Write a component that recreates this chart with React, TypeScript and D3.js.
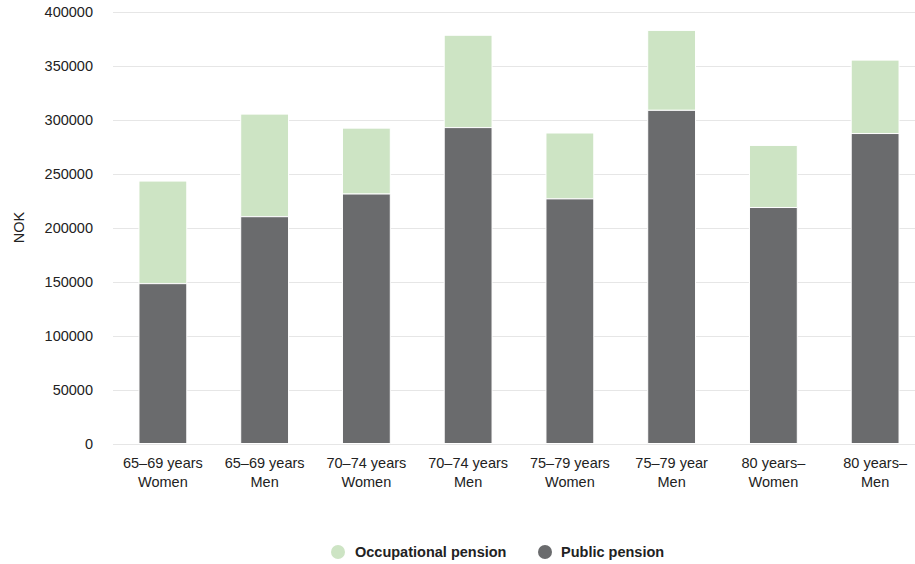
import React from "react";
import * as d3 from "d3";

const categories: string[][] = [
  ["65–69 years", "Women"],
  ["65–69 years", "Men"],
  ["70–74 years", "Women"],
  ["70–74 years", "Men"],
  ["75–79 years", "Women"],
  ["75–79 year", "Men"],
  ["80 years–", "Women"],
  ["80 years–", "Men"],
];
const publicPension = [148000, 210000, 231000, 292500, 226500, 308500, 218500, 287000];
const occupationalPension = [95000, 95000, 61000, 85500, 61000, 74000, 57500, 68000];
const yTicks = [0, 50000, 100000, 150000, 200000, 250000, 300000, 350000, 400000];
const seriesNames = ["Occupational pension", "Public pension"];

const W = 915;
const H = 564;
const GREEN = "#cde4c4";
const DARK = "#6a6b6d";
const FONT = "'Liberation Sans', Arial, sans-serif";
const FS = 14.5;

export default function App() {
  const x = d3
    .scaleBand<number>()
    .domain(d3.range(categories.length))
    .range([112, 926])
    .paddingInner(0.53)
    .paddingOuter(0.265);
  const y = d3.scaleLinear().domain([0, 400000]).range([443.5, 11.5]);
  const bw = x.bandwidth();

  return (
    <svg width={W} height={H} style={{ position: "absolute", left: 0, top: 0, fontFamily: FONT }}>
      <rect width={W} height={H} fill="#fff" />
      {yTicks.map((t) => (
        <g key={t}>
          <line x1={113} x2={W} y1={Math.round(y(t)) + 0.5} y2={Math.round(y(t)) + 0.5} stroke="#e6e6e6" strokeWidth={1} />
          <text x={93} y={y(t)} dy="0.35em" textAnchor="end" fontSize={FS} fill="#222">
            {t}
          </text>
        </g>
      ))}
      <text transform={`translate(23.5,${y(200000)}) rotate(-90)`} textAnchor="middle" fontSize={FS} fill="#222">
        NOK
      </text>
      {categories.map((c, i) => {
        const x0 = x(i)!;
        const p = publicPension[i];
        const o = occupationalPension[i];
        return (
          <g key={i}>
            <rect x={x0} y={y(p + o)} width={bw} height={y(p) - y(p + o)} fill={GREEN} stroke="#fff" strokeWidth={1} />
            <rect x={x0} y={y(p)} width={bw} height={y(0) - y(p)} fill={DARK} stroke="#fff" strokeWidth={1} />
            <text x={x0 + bw / 2} y={468} textAnchor="middle" fontSize={FS} fill="#222">
              <tspan x={x0 + bw / 2}>{c[0]}</tspan>
              <tspan x={x0 + bw / 2} dy={19}>{c[1]}</tspan>
            </text>
          </g>
        );
      })}
      <g>
        <circle cx={338} cy={552} r={7} fill={GREEN} />
        <text x={355} y={552} dy="0.35em" fontSize={FS} fontWeight="bold" fill="#222">
          {seriesNames[0]}
        </text>
        <circle cx={545} cy={552} r={7} fill={DARK} />
        <text x={561} y={552} dy="0.35em" fontSize={FS} fontWeight="bold" fill="#222">
          {seriesNames[1]}
        </text>
      </g>
    </svg>
  );
}
